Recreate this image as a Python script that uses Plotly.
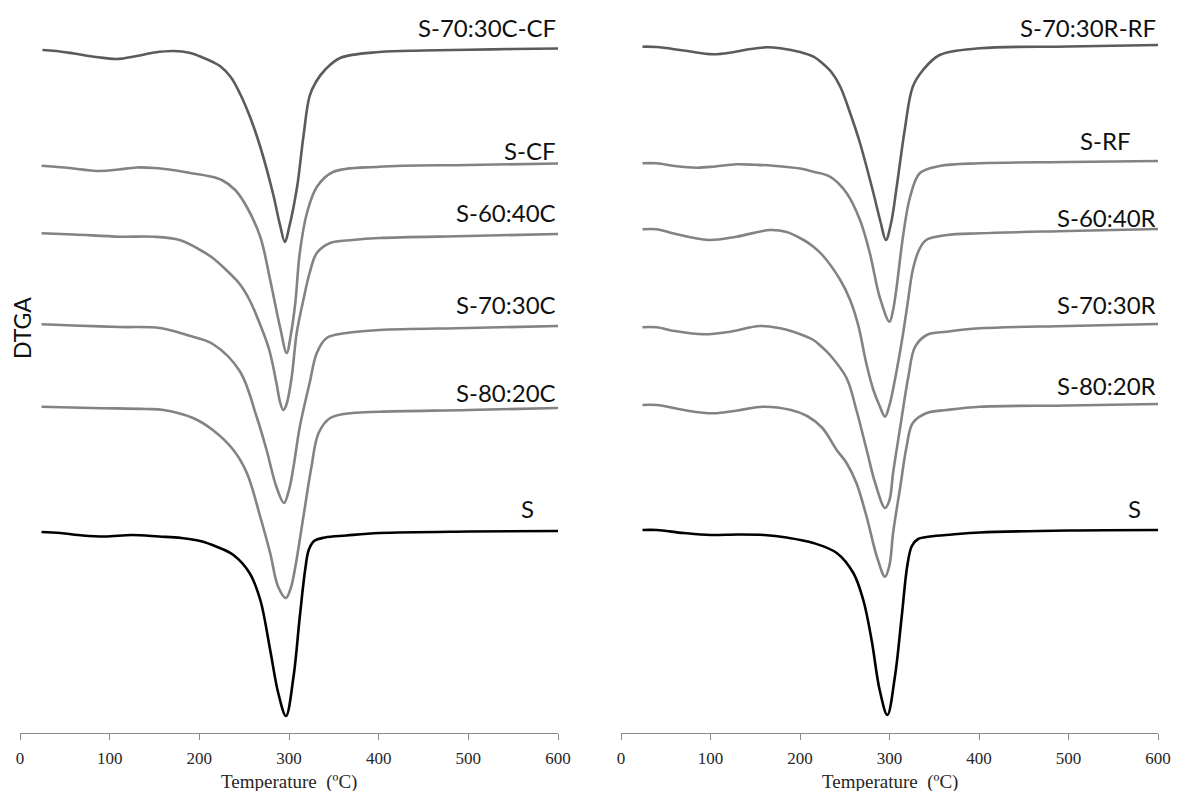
import plotly.graph_objects as go

# ---------------- data (temperature in °C, DTGA magnitude in arbitrary offset units; plotted as negative) -----
# Left panel (C series)
T_CFC = [25, 40, 60, 85, 108, 130, 150, 171, 190, 201, 215, 223, 235, 245, 257, 268, 282, 290, 295.5, 300, 309, 316, 323, 330, 340, 357, 401, 450, 500, 550, 600]
V_CFC = [5.0, 5.1, 5.35, 5.7, 5.9, 5.6, 5.25, 5.1, 5.3, 5.65, 6.2, 6.6, 7.7, 9.3, 11.8, 14.7, 19.3, 22.5, 24.2, 22.8, 18.7, 13.7, 9.6, 8.2, 7.0, 5.8, 5.2, 5.05, 4.98, 4.9, 4.85]

T_SCF = [24, 50, 89, 110, 130, 150, 170, 190, 210, 225, 240, 253, 268, 279, 290, 297.4, 302, 307, 312, 320, 331, 349, 401, 500, 600]
V_SCF = [16.57, 16.75, 17.1, 16.95, 16.75, 16.8, 17.0, 17.3, 17.6, 18.0, 19.0, 20.7, 23.7, 28.0, 32.7, 35.3, 33.5, 30.3, 25.3, 21.3, 18.7, 17.2, 16.67, 16.5, 16.35]

T_6040C = [24, 60, 111.5, 149, 178, 201, 215, 230, 245, 256, 268, 278, 286, 290, 293.6, 297, 303, 308.6, 316, 323, 331, 346, 371, 401, 500, 600]
V_6040C = [23.33, 23.45, 23.67, 23.67, 24.0, 25.0, 25.8, 27.0, 28.4, 30.0, 32.5, 35.0, 38.3, 40.2, 41.0, 40.5, 37.7, 33.3, 30.0, 27.3, 25.3, 24.3, 24.0, 23.8, 23.6, 23.4]

T_7030C = [24, 60, 111.5, 156, 186, 215, 245, 264, 275, 286, 294.4, 300, 305, 312, 323, 331, 342, 364, 401, 500, 600]
V_7030C = [32.43, 32.55, 32.7, 32.8, 33.5, 34.4, 37.1, 41.7, 45.0, 48.7, 50.3, 49.0, 46.7, 42.7, 38.3, 35.3, 33.8, 33.3, 33.0, 32.8, 32.6]

T_8020C = [24, 80, 141, 160, 193, 215, 238, 253, 268, 279, 288, 296.6, 302, 307, 316, 325, 333, 346, 371, 401, 500, 600]
V_8020C = [40.67, 40.8, 40.9, 41.0, 41.8, 43.0, 45.0, 47.3, 51.7, 55.3, 58.7, 59.8, 58.8, 56.7, 51.7, 46.7, 43.3, 41.8, 41.3, 41.17, 41.0, 40.8]

T_SC = [24, 45, 70, 95, 125, 155, 180, 201, 220, 238, 256, 268, 279, 288, 296.6, 305, 312, 318, 322, 328, 340, 364, 401, 500, 600]
V_SC = [53.2, 53.3, 53.55, 53.65, 53.5, 53.65, 53.8, 54.1, 54.7, 55.5, 57.3, 60.0, 65.0, 69.3, 71.6, 67.7, 61.7, 57.0, 55.0, 54.1, 53.75, 53.55, 53.3, 53.15, 53.1]

# Right panel (R series)
T_RFR = [24, 40, 70, 103, 125, 145, 163, 178, 200, 215, 222, 235, 245, 256, 267, 282, 290, 296, 302, 308, 317, 326, 337.5, 356, 401, 500, 600]
V_RFR = [4.67, 4.7, 5.05, 5.43, 5.23, 4.9, 4.73, 4.83, 5.2, 5.67, 6.1, 7.2, 8.67, 11.3, 14.3, 19.3, 22.2, 24.0, 22.2, 18.7, 13.0, 8.67, 7.0, 5.5, 4.83, 4.65, 4.5]

T_SRF = [24, 40, 60, 84.6, 105, 129, 150, 170, 200, 215, 233.5, 252, 267, 278, 289, 300, 304, 308, 315, 323, 334, 356, 401, 500, 600]
V_SRF = [16.33, 16.33, 16.6, 16.77, 16.65, 16.43, 16.48, 16.57, 16.85, 17.17, 17.67, 19.3, 22.0, 25.3, 29.7, 32.17, 31.0, 28.7, 23.7, 19.7, 17.3, 16.6, 16.33, 16.2, 16.1]

T_6040R = [24, 40, 58, 97.6, 129, 166.5, 185, 204, 215, 225, 245, 256, 265, 274.5, 282, 289, 295, 300, 306, 314, 320, 326, 333, 341, 364, 401, 500, 600]
V_6040R = [22.93, 22.93, 23.33, 24.0, 23.67, 23.0, 23.2, 24.0, 24.67, 25.5, 28.0, 30.0, 32.5, 36.5, 39.0, 40.6, 41.67, 40.5, 38.0, 34.0, 30.5, 27.0, 25.0, 24.0, 23.5, 23.33, 23.1, 22.9]

T_7030R = [24, 40, 60, 92, 122, 155, 178, 192.5, 215, 222, 233.5, 252, 263, 274.5, 284, 295, 300, 304, 312, 321, 328.5, 341.6, 364, 401, 500, 600]
V_7030R = [32.73, 32.73, 33.1, 33.43, 33.17, 32.6, 32.83, 33.17, 34.0, 34.5, 35.5, 37.8, 41.0, 45.0, 48.3, 50.8, 50.0, 47.3, 42.7, 37.7, 34.7, 33.5, 33.17, 32.83, 32.6, 32.4]

T_8020R = [24, 40, 70, 103, 130, 159, 190, 208, 225, 241, 252, 263, 274.5, 286, 295, 300, 304, 312, 319, 326, 341.6, 364, 401, 500, 600]
V_8020R = [40.5, 40.5, 41.0, 41.33, 41.05, 40.67, 41.0, 41.6, 42.8, 45.0, 46.3, 48.3, 51.7, 55.7, 57.67, 56.5, 53.3, 48.7, 44.7, 42.3, 41.3, 41.0, 40.67, 40.55, 40.4]

T_SR = [24, 40, 70, 100, 130, 160, 185, 215, 241, 259.6, 270.7, 280, 289, 297.6, 306, 313.6, 320, 325, 332, 345, 370, 401, 500, 600]
V_SR = [53.0, 53.0, 53.3, 53.5, 53.45, 53.5, 53.75, 54.3, 55.3, 57.3, 60.0, 64.0, 69.0, 71.5, 67.7, 61.7, 56.5, 54.6, 53.9, 53.65, 53.45, 53.25, 53.05, 53.0]

LEFT_LABELS = ["S-70:30C-CF", "S-CF", "S-60:40C", "S-70:30C", "S-80:20C", "S"]
RIGHT_LABELS = ["S-70:30R-RF", "S-RF", "S-60:40R", "S-70:30R", "S-80:20R", "S"]

XTICKS = [0, 100, 200, 300, 400, 500, 600]

# ---------------- figure ----------------
W, H = 1177, 791
B = 58
PH = H - B

DARK = "#5b5b5b"
MID = "#838383"
BLACK = "#000000"

left = [(T_CFC, V_CFC, DARK), (T_SCF, V_SCF, MID), (T_6040C, V_6040C, MID),
        (T_7030C, V_7030C, MID), (T_8020C, V_8020C, MID), (T_SC, V_SC, BLACK)]
right = [(T_RFR, V_RFR, DARK), (T_SRF, V_SRF, MID), (T_6040R, V_6040R, MID),
         (T_7030R, V_7030R, MID), (T_8020R, V_8020R, MID), (T_SR, V_SR, BLACK)]

fig = go.Figure()
for (t, v, c) in left:
    fig.add_trace(go.Scatter(x=t, y=[-a for a in v], mode="lines", xaxis="x", yaxis="y",
                             line=dict(color=c, width=2.6, shape="spline", smoothing=1.0),
                             showlegend=False, hoverinfo="skip"))
for (t, v, c) in right:
    fig.add_trace(go.Scatter(x=t, y=[-a for a in v], mode="lines", xaxis="x2", yaxis="y2",
                             line=dict(color=c, width=2.6, shape="spline", smoothing=1.0),
                             showlegend=False, hoverinfo="skip"))

xax = dict(range=[0, 600], tickvals=XTICKS, ticks="outside", ticklen=6, tickcolor="#8a8a8a",
           showline=True, linecolor="#8a8a8a", linewidth=1, showgrid=False, zeroline=False,
           automargin=False, ticklabelstandoff=4,
           tickfont=dict(family="Liberation Serif", size=17, color="#262626"), fixedrange=True)
yax = dict(range=[-PH / 10, 0], visible=False, showgrid=False, zeroline=False, automargin=False)

fig.update_layout(
    width=W, height=H, margin=dict(l=0, r=0, t=0, b=B, autoexpand=False),
    paper_bgcolor="white", plot_bgcolor="white",
    xaxis=dict(domain=[20 / W, 558 / W], anchor="y", **xax),
    xaxis2=dict(domain=[621 / W, 1158 / W], anchor="y2", **xax),
    yaxis=dict(domain=[0, 1], anchor="x", **yax),
    yaxis2=dict(domain=[0, 1], anchor="x2", **yax),
)

lab_font = dict(family="Lato", size=24, color="#111111")
left_pos = [(600, 2.7), (600, 15.0), (600, 21.2), (600, 30.4), (600, 39.2), (576, 50.8)]
right_pos = [(600, 2.7), (572, 14.0), (600, 21.7), (600, 30.4), (600, 38.5), (583, 50.8)]
ann = []
for lab, (x, y) in zip(LEFT_LABELS, left_pos):
    ann.append(dict(text=lab, x=x, y=-y, xref="x", yref="y", xanchor="right", yanchor="middle",
                    showarrow=False, font=lab_font))
for lab, (x, y) in zip(RIGHT_LABELS, right_pos):
    ann.append(dict(text=lab, x=x, y=-y, xref="x2", yref="y2", xanchor="right", yanchor="middle",
                    showarrow=False, font=lab_font))
ttl_font = dict(family="Liberation Serif", size=19, color="#262626")
for xr in ["x", "x2"]:
    ann.append(dict(text="Temperature  (ºC)", x=300, y=(PH - 782) / PH, xref=xr, yref="paper",
                    xanchor="center", yanchor="middle", showarrow=False, font=ttl_font))
ann.append(dict(text="DTGA", x=22 / W, y=(PH - 328) / PH, xref="paper", yref="paper",
                xanchor="center", yanchor="middle", textangle=-90, showarrow=False,
                font=dict(family="Lato", size=23, color="#111111")))
fig.update_layout(annotations=ann)

fig.write_html("out.html")
